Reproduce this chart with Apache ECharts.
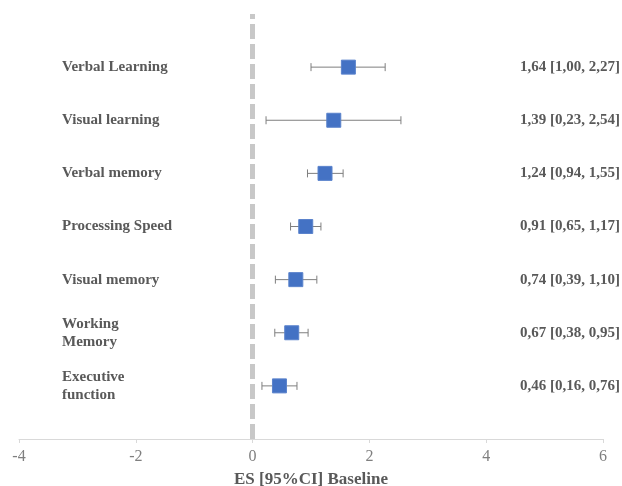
<!DOCTYPE html>
<html><head><meta charset="utf-8">
<script src="https://cdn.jsdelivr.net/npm/echarts@6/dist/echarts.min.js"></script>
<style>html,body{margin:0;padding:0;background:#fff}#c{width:622px;height:486px}</style>
</head><body><div id="c"></div>
<script>
var categories = ['Verbal Learning','Visual learning','Verbal memory','Processing Speed','Visual memory','Working\nMemory','Executive\nfunction'];
var es = [1.64, 1.39, 1.24, 0.91, 0.74, 0.67, 0.46];
var ciLow = [1.00, 0.23, 0.94, 0.65, 0.39, 0.38, 0.16];
var ciHigh = [2.27, 2.54, 1.55, 1.17, 1.10, 0.95, 0.76];
var xTicks = [-4, -2, 0, 2, 4, 6];

var n = categories.length;
function rowY(i){ return n - i; }
function fmt(v){ return v.toFixed(2).replace('.', ','); }
var leftLabels = {}, rightLabels = {};
categories.forEach(function(c,i){
  leftLabels[rowY(i)] = c;
  rightLabels[rowY(i)] = fmt(es[i]) + ' [' + fmt(ciLow[i]) + ', ' + fmt(ciHigh[i]) + ']';
});
var pts = es.map(function(v,i){ return [v, rowY(i)]; });
var bars = es.map(function(v,i){ return [ciLow[i], ciHigh[i], rowY(i)]; });

var font = 'Liberation Serif';
var chart = echarts.init(document.getElementById('c'));
chart.setOption({
  animation: false,
  grid: {left: 19, right: 19, top: 14, bottom: 47, containLabel: false, outerBoundsMode: 'none'},
  xAxis: {
    type: 'value', min: xTicks[0], max: xTicks[xTicks.length-1], interval: 2,
    axisLine: {show: true, lineStyle: {color: '#d9d9d9', width: 1}},
    axisTick: {show: true, length: 4, lineStyle: {color: '#d9d9d9'}},
    splitLine: {show: false},
    axisLabel: {color: '#7f7f7f', fontFamily: font, fontSize: 16, margin: 10},
    name: 'ES [95%CI] Baseline', nameLocation: 'middle', nameGap: 32,
    nameTextStyle: {color: '#595959', fontFamily: font, fontSize: 17, fontWeight: 'bold'}
  },
  yAxis: [{
    type: 'value', min: 0, max: n + 1, interval: 1,
    axisLine: {show: false}, axisTick: {show: false}, splitLine: {show: false},
    axisLabel: {inside: true, margin: 43, color: '#595959', fontFamily: font, fontSize: 15, fontWeight: 'bold', lineHeight: 18,
      formatter: function(v){ return leftLabels[v] || ''; }}
  },{
    type: 'value', min: 0, max: n + 1, interval: 1, position: 'right', offset: 17,
    axisLine: {show: false}, axisTick: {show: false}, splitLine: {show: false},
    axisLabel: {inside: true, margin: 0, color: '#595959', fontFamily: font, fontSize: 15, fontWeight: 'bold',
      formatter: function(v){ return rightLabels[v] || ''; }}
  }],
  series: [{
    type: 'custom',
    data: bars,
    encode: {x: [0,1], y: 2},
    renderItem: function(params, api){
      var y = api.value(2);
      var a = api.coord([api.value(0), y]);
      var b = api.coord([api.value(1), y]);
      var h = 4;
      var st = {stroke: '#7f7f7f', lineWidth: 1};
      return {type: 'group', children: [
        {type: 'line', shape: {x1: a[0], y1: a[1], x2: b[0], y2: b[1]}, style: st},
        {type: 'line', shape: {x1: a[0], y1: a[1]-h, x2: a[0], y2: a[1]+h}, style: st},
        {type: 'line', shape: {x1: b[0], y1: b[1]-h, x2: b[0], y2: b[1]+h}, style: st}
      ]};
    },
    z: 2
  },{
    type: 'scatter',
    data: pts,
    symbol: 'rect', symbolSize: 14,
    itemStyle: {color: '#4472c4', borderColor: '#5b83cc', borderWidth: 1, opacity: 1},
    z: 3,
    markLine: {
      silent: true, symbol: 'none', label: {show: false},
      lineStyle: {color: '#c8c8c8', width: 5, type: [15, 5]},
      data: [[{coord: [0, 0]}, {coord: [0, n + 1]}]]
    }
  }]
});
</script></body></html>
